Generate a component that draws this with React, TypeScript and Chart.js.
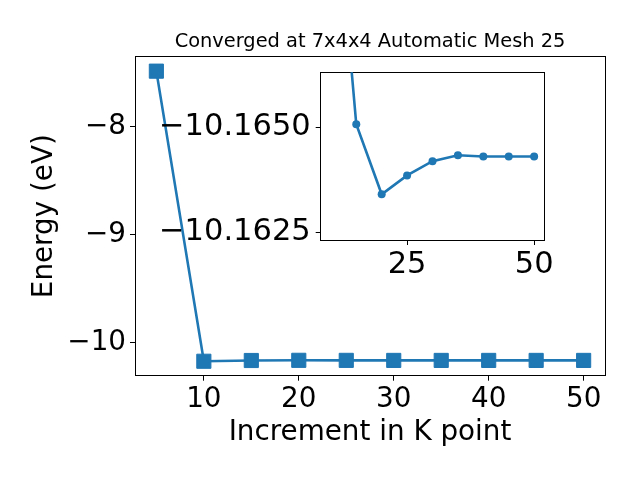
import React, { useEffect, useRef } from "react";
import { Chart, registerables } from "chart.js";

Chart.register(...registerables);

// ---- data ----
const kPoints = [5, 10, 15, 20, 25, 30, 35, 40, 45, 50];
const energies = [
  -7.483, -10.172, -10.16507, -10.1634, -10.16385, -10.16419, -10.16433, -10.1643,
  -10.1643, -10.1643,
];
// the inset shows the converged part (from k = 10 onwards)
const insetKPoints = kPoints.slice(1);
const insetEnergies = energies.slice(1);

const mainXTicks = [10, 20, 30, 40, 50];
const mainYTicks = [-10, -9, -8];
const insetXTicks = [25, 50];
const insetYTicks = [-10.165, -10.1625];

const titleText = "Converged at 7x4x4 Automatic Mesh 25";
const xLabel = "Increment in K point";
const yLabel = "Energy (eV)";

const BLUE = "#1f77b4";
const FONT = "DejaVu Sans";
const TICK_SIZE = 27.8;
const INSET_TICK_SIZE = 30.5;

const minus = (s: string) => s.replace("-", "\u2212");

const mainPoints = kPoints.map((k, i) => ({ x: k, y: energies[i] }));
const insetPoints = insetKPoints.map((k, i) => ({ x: k, y: insetEnergies[i] }));

const whiteArea = {
  id: "whiteArea",
  beforeDraw(chart: any) {
    const { ctx, chartArea } = chart;
    ctx.save();
    ctx.fillStyle = "#ffffff";
    ctx.fillRect(chartArea.left, chartArea.top, chartArea.right - chartArea.left, chartArea.bottom - chartArea.top);
    ctx.restore();
  },
};

function spine(position: string, size: number, horizontal: boolean, min: number, max: number, extra: any = {}) {
  return {
    type: "linear",
    position,
    min,
    max,
    ...extra,
    ticks: { display: false },
    grid: { drawOnChartArea: false, drawTicks: false },
    border: { display: true, color: "#000", width: 1 },
    afterFit: (s: any) => {
      if (horizontal) s.height = size;
      else s.width = size;
    },
  };
}

export default function App() {
  const mainRef = useRef<HTMLCanvasElement>(null);
  const insetRef = useRef<HTMLCanvasElement>(null);

  useEffect(() => {
    const xMin = 2.75, xMax = 52.25, yMin = -10.306, yMax = -7.349;
    const main = new Chart(mainRef.current as HTMLCanvasElement, {
      type: "line",
      data: {
        datasets: [
          {
            data: mainPoints,
            borderColor: BLUE,
            backgroundColor: BLUE,
            borderWidth: 2.6,
            pointStyle: "rect",
            pointRadius: 10,
            pointBorderWidth: 1,
            pointBackgroundColor: BLUE,
            pointBorderColor: BLUE,
          },
        ],
      },
      options: {
        responsive: false,
        animation: false,
        devicePixelRatio: 1,
        layout: { padding: 0 },
        plugins: { legend: { display: false }, tooltip: { enabled: false }, title: { display: false } },
        scales: {
          x: {
            type: "linear",
            position: "bottom",
            min: xMin,
            max: xMax,
            afterBuildTicks: (s: any) => {
              s.ticks = mainXTicks.map((v) => ({ value: v }));
            },
            afterFit: (s: any) => {
              s.height = 104.3;
            },
            ticks: {
              color: "#000",
              font: { family: FONT, size: TICK_SIZE },
              padding: 2,
              maxRotation: 0,
              autoSkip: false,
              callback: (v: any) => minus(String(v)),
            },
            grid: { drawOnChartArea: false, drawTicks: true, tickLength: 5, color: "#000" },
            border: { display: true, color: "#000", width: 1 },
            title: {
              display: true,
              text: xLabel,
              color: "#000",
              font: { family: FONT, size: 27.8 },
              padding: { top: 0, bottom: 30.3 },
            },
          },
          y: {
            type: "linear",
            position: "left",
            min: yMin,
            max: yMax,
            afterBuildTicks: (s: any) => {
              s.ticks = mainYTicks.map((v) => ({ value: v }));
            },
            afterFit: (s: any) => {
              s.width = 135;
            },
            ticks: {
              color: "#000",
              font: { family: FONT, size: TICK_SIZE },
              padding: 4,
              autoSkip: false,
              callback: (v: any) => minus(String(v)),
            },
            grid: { drawOnChartArea: false, drawTicks: true, tickLength: 5, color: "#000" },
            border: { display: true, color: "#000", width: 1 },
            title: {
              display: true,
              text: yLabel,
              color: "#000",
              font: { family: FONT, size: 27.8 },
              padding: { top: 28.3, bottom: 0 },
            },
          },
          x2: spine("top", 56.7, true, xMin, xMax, {
            title: {
              display: true,
              text: titleText,
              color: "#000",
              font: { family: FONT, size: 19.4 },
              padding: { top: 30.4, bottom: 0 },
            },
          }),
          y2: spine("right", 35, false, yMin, yMax),
        },
      } as any,
    });

    const iyMin = -10.16631, iyMax = -10.16231;
    const inset = new Chart(insetRef.current as HTMLCanvasElement, {
      type: "line",
      data: {
        datasets: [
          {
            data: insetPoints,
            borderColor: BLUE,
            backgroundColor: BLUE,
            borderWidth: 2.6,
            pointStyle: "circle",
            pointRadius: 4,
            pointBorderWidth: 0,
            pointBackgroundColor: BLUE,
            pointBorderColor: BLUE,
          },
        ],
      },
      options: {
        responsive: false,
        animation: false,
        devicePixelRatio: 1,
        layout: { padding: 0 },
        plugins: { legend: { display: false }, tooltip: { enabled: false }, title: { display: false } },
        scales: {
          x: {
            type: "linear",
            position: "bottom",
            min: 8,
            max: 52,
            afterBuildTicks: (s: any) => {
              s.ticks = insetXTicks.map((v) => ({ value: v }));
            },
            afterFit: (s: any) => {
              s.height = 50;
            },
            ticks: {
              color: "#000",
              font: { family: FONT, size: INSET_TICK_SIZE },
              padding: 2,
              maxRotation: 0,
              autoSkip: false,
              callback: (v: any) => String(v),
            },
            grid: { drawOnChartArea: false, drawTicks: true, tickLength: 5, color: "#000" },
            border: { display: true, color: "#000", width: 1 },
          },
          y: {
            type: "linear",
            position: "left",
            reverse: true,
            min: iyMin,
            max: iyMax,
            afterBuildTicks: (s: any) => {
              s.ticks = insetYTicks.map((v) => ({ value: v }));
            },
            afterFit: (s: any) => {
              s.width = 170.7;
            },
            ticks: {
              color: "#000",
              font: { family: FONT, size: INSET_TICK_SIZE },
              padding: 5,
              autoSkip: false,
              callback: (v: any) => minus(Number(v).toFixed(4)),
            },
            grid: { drawOnChartArea: false, drawTicks: true, tickLength: 5, color: "#000" },
            border: { display: true, color: "#000", width: 1 },
          },
          x2: spine("top", 32.3, true, 8, 52),
          y2: spine("right", 15.7, false, iyMin, iyMax),
        },
      } as any,
      plugins: [whiteArea],
    });

    return () => {
      main.destroy();
      inset.destroy();
    };
  }, []);

  return (
    <div style={{ position: "fixed", left: 0, top: 0, width: 640, height: 480, background: "#fff" }}>
      <canvas ref={mainRef} width={640} height={480} style={{ position: "absolute", left: 0, top: 0, width: 640, height: 480 }} />
      <canvas ref={insetRef} width={410} height={250} style={{ position: "absolute", left: 150, top: 40, width: 410, height: 250 }} />
    </div>
  );
}
